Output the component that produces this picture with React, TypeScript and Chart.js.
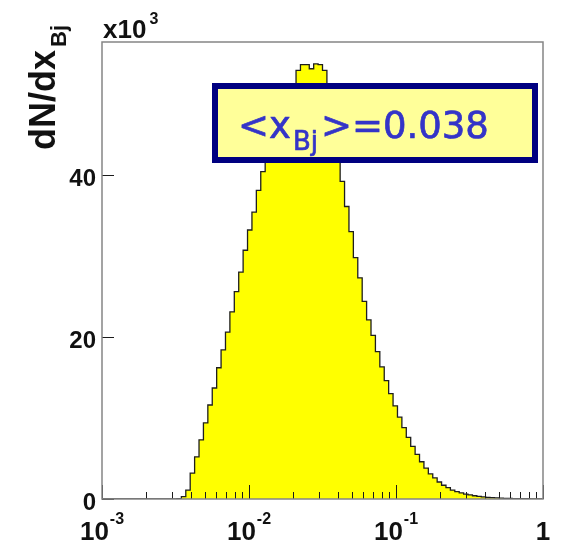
import React, { useEffect, useRef } from "react";
import { Chart, registerables } from "chart.js";

Chart.register(...registerables);

// Histogram binning: 100 log-spaced bins from 10^-3 to 10^0
const LOG_X_MIN = -3;
const LOG_X_MAX = 0;
const N_BINS = 100;

// Entries per bin, in units of 10^3
const BIN_COUNTS: number[] = [
  0, 0, 0, 0, 0, 0, 0, 0, 0, 0,
  0, 0, 0, 0, 0, 0, 0, 0.05, 0.3, 1.1,
  3.2, 5.2, 7.3, 9.4, 11.6, 13.7, 16.2, 18.4, 20.6, 23.1,
  25.6, 28.0, 30.7, 33.2, 35.4, 38.1, 40.4, 42.6, 44.5, 46.2,
  47.7, 49.0, 50.2, 51.2, 52.9, 53.6, 53.6, 53.1, 53.7, 53.6,
  52.9, 50.6, 47.0, 42.8, 39.2, 36.1, 33.0, 29.8, 27.3, 24.4,
  22.1, 20.2, 18.2, 16.3, 14.6, 13.0, 11.5, 10.1, 8.8, 7.6,
  6.5, 5.5, 4.6, 3.8, 3.1, 2.6, 2.1, 1.7, 1.4, 1.1,
  0.9, 0.75, 0.6, 0.5, 0.4, 0.32, 0.26, 0.2, 0.16, 0.13,
  0.1, 0.08, 0.06, 0.05, 0.04, 0.03, 0.03, 0.02, 0.02, 0.01,
];

const Y_MAX = 56.4;
const Y_TICKS = [0, 20, 40];
const Y_TICK_LABELS = ["0", "20", "40"];

const X_TICK_VALUES = [0.001, 0.01, 0.1, 1];
const X_TICK_BASES = ["10", "10", "10", "1"];
const X_TICK_EXPONENTS = ["-3", "-2", "-1", ""];
const X_MINOR_MULTIPLIERS = [2, 3, 4, 5, 6, 7, 8, 9];

const Y_TITLE = "dN/dx";
const Y_TITLE_SUB = "Bj";
const Y_SCALE_BASE = "x10";
const Y_SCALE_EXP = "3";

const MEAN_LABEL_PRE = "<x";
const MEAN_LABEL_SUB = "Bj";
const MEAN_LABEL_POST = ">=0.038";

const binEdge = (i: number) =>
  Math.pow(10, LOG_X_MIN + (i * (LOG_X_MAX - LOG_X_MIN)) / N_BINS);

const LABEL_FONT = '"Liberation Sans", Arial, Helvetica, sans-serif';
const BOX_FONT = '"DejaVu Sans", Verdana, sans-serif';

const rootStylePlugin = {
  id: "rootStyle",
  afterDatasetsDraw(chart: any) {
    const { ctx, chartArea: a, scales } = chart;
    const xs = scales.x;
    const ys = scales.y;
    ctx.save();

    // tick marks, drawn inside the frame
    ctx.strokeStyle = "#1a1a1a";
    ctx.lineWidth = 1;
    ctx.beginPath();
    X_TICK_VALUES.forEach((v, k) => {
      const px = Math.round(xs.getPixelForValue(v)) + 0.5;
      ctx.moveTo(px, a.bottom);
      ctx.lineTo(px, a.bottom - 14);
      if (k < X_TICK_VALUES.length - 1) {
        X_MINOR_MULTIPLIERS.forEach((m) => {
          const mx = Math.round(xs.getPixelForValue(v * m)) + 0.5;
          ctx.moveTo(mx, a.bottom);
          ctx.lineTo(mx, a.bottom - 7);
        });
      }
    });
    Y_TICKS.forEach((v) => {
      const py = Math.round(ys.getPixelForValue(v)) + 0.5;
      ctx.moveTo(a.left, py);
      ctx.lineTo(a.left + 12, py);
    });
    ctx.stroke();

    // frame
    ctx.strokeStyle = "#858585";
    ctx.lineWidth = 1.5;
    ctx.strokeRect(a.left, a.top, a.right - a.left, a.bottom - a.top);

    ctx.fillStyle = "#111";
    // y tick labels
    ctx.font = `bold 24px ${LABEL_FONT}`;
    ctx.textAlign = "right";
    ctx.textBaseline = "middle";
    Y_TICKS.forEach((v, k) => {
      ctx.fillText(Y_TICK_LABELS[k], a.left - 6, ys.getPixelForValue(v) + 4);
    });

    // x tick labels with exponents
    ctx.textAlign = "left";
    ctx.textBaseline = "alphabetic";
    X_TICK_VALUES.forEach((v, k) => {
      const cx = xs.getPixelForValue(v);
      ctx.font = `bold 26px ${LABEL_FONT}`;
      const wb = ctx.measureText(X_TICK_BASES[k]).width;
      ctx.font = `bold 16px ${LABEL_FONT}`;
      const we = X_TICK_EXPONENTS[k] ? ctx.measureText(X_TICK_EXPONENTS[k]).width + 1 : 0;
      const start = cx - (wb + we) / 2;
      ctx.font = `bold 26px ${LABEL_FONT}`;
      ctx.fillText(X_TICK_BASES[k], start, a.bottom + 41);
      if (X_TICK_EXPONENTS[k]) {
        ctx.font = `bold 16px ${LABEL_FONT}`;
        ctx.fillText(X_TICK_EXPONENTS[k], start + wb + 1, a.bottom + 25);
      }
    });

    // axis multiplier above the frame
    ctx.font = `bold 26px ${LABEL_FONT}`;
    const wm = ctx.measureText(Y_SCALE_BASE).width;
    ctx.fillText(Y_SCALE_BASE, a.left + 1, a.top - 4);
    ctx.font = `bold 16px ${LABEL_FONT}`;
    ctx.fillText(Y_SCALE_EXP, a.left + 4 + wm, a.top - 18);

    // rotated y title
    ctx.translate(a.left - 47, a.top + 108);
    ctx.rotate(-Math.PI / 2);
    ctx.font = `bold 36px ${LABEL_FONT}`;
    const wt = ctx.measureText(Y_TITLE).width;
    ctx.fillText(Y_TITLE, 0, 0);
    ctx.font = `bold 22px ${LABEL_FONT}`;
    ctx.fillText(Y_TITLE_SUB, wt + 3, 11);
    ctx.restore();
  },
  afterDraw(chart: any) {
    const { ctx } = chart;
    ctx.save();
    // statistics box
    const bx = 212, by = 83, bw = 326, bh = 80, bt = 6;
    ctx.fillStyle = "#ffff99";
    ctx.fillRect(bx, by, bw, bh);
    ctx.strokeStyle = "#000080";
    ctx.lineWidth = bt;
    ctx.strokeRect(bx + bt / 2, by + bt / 2, bw - bt, bh - bt);

    ctx.fillStyle = "#3434c8";
    ctx.strokeStyle = "#3434c8";
    ctx.lineWidth = 0.7;
    ctx.lineJoin = "round";
    ctx.textAlign = "left";
    ctx.textBaseline = "alphabetic";
    const draw = (t: string, x: number, y: number) => {
      ctx.fillText(t, x, y);
      ctx.strokeText(t, x, y);
    };
    let x = 238;
    ctx.font = `37px ${BOX_FONT}`;
    draw(MEAN_LABEL_PRE, x, 138);
    x += ctx.measureText(MEAN_LABEL_PRE).width + 2;
    ctx.font = `26px ${BOX_FONT}`;
    draw(MEAN_LABEL_SUB, x, 150);
    x += ctx.measureText(MEAN_LABEL_SUB).width + 3;
    ctx.font = `37px ${BOX_FONT}`;
    draw(MEAN_LABEL_POST, x, 138);
    ctx.restore();
  },
};

export default function App() {
  const canvasRef = useRef<HTMLCanvasElement>(null);

  useEffect(() => {
    if (!canvasRef.current) return;
    const points = BIN_COUNTS.map((c, i) => ({ x: binEdge(i), y: c }));
    points.push({ x: binEdge(N_BINS), y: BIN_COUNTS[N_BINS - 1] });

    const chart = new Chart(canvasRef.current, {
      type: "line",
      data: {
        datasets: [
          {
            data: points,
            stepped: true,
            fill: "origin",
            backgroundColor: "#ffff00",
            borderColor: "#1e1e1e",
            borderWidth: 1.3,
            pointRadius: 0,
            tension: 0,
          },
        ],
      },
      options: {
        responsive: false,
        maintainAspectRatio: false,
        devicePixelRatio: 1,
        animation: false,
        events: [],
        layout: { padding: { left: 102, right: 25, top: 42, bottom: 57 } },
        scales: {
          x: { type: "logarithmic", min: 0.001, max: 1, display: false },
          y: { type: "linear", min: 0, max: Y_MAX, display: false },
        },
        plugins: {
          legend: { display: false },
          tooltip: { enabled: false },
        },
      },
      plugins: [rootStylePlugin],
    });
    return () => chart.destroy();
  }, []);

  return (
    <div style={{ position: "absolute", left: 0, top: 0, width: 568, height: 556, background: "#fff" }}>
      <canvas ref={canvasRef} width={568} height={556} style={{ display: "block" }} />
    </div>
  );
}
